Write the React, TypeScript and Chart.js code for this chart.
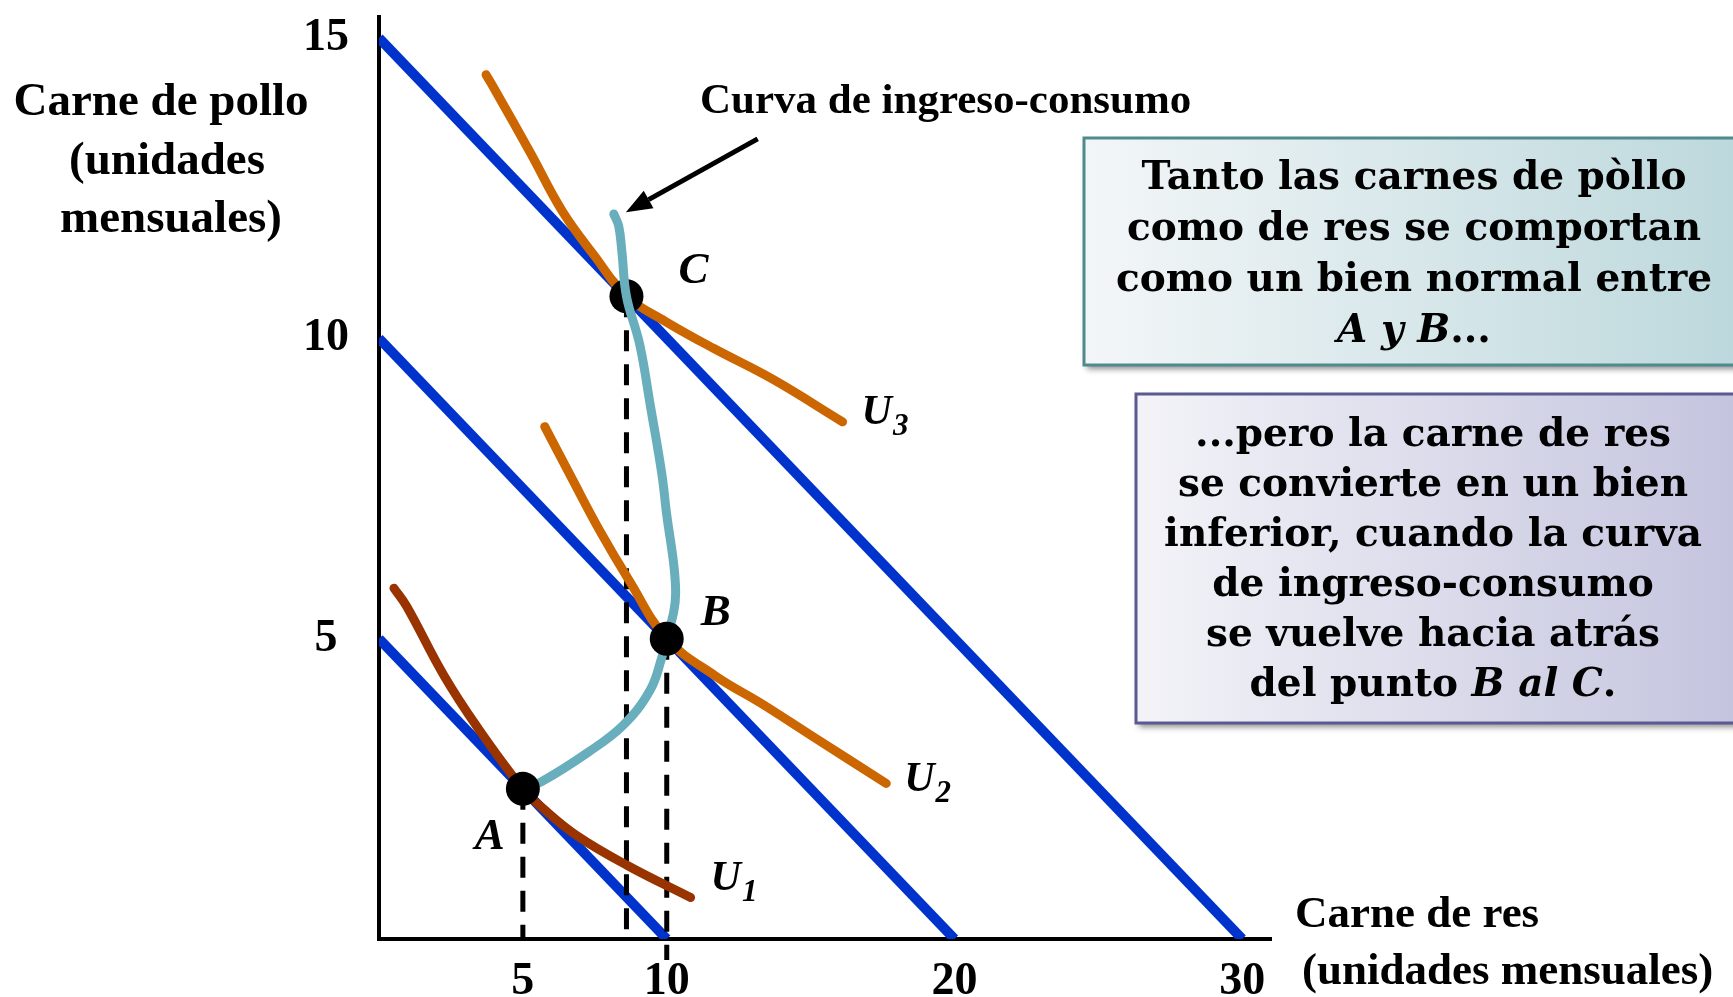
import { useEffect, useRef } from "react";
import { Chart, registerables } from "chart.js";

Chart.register(...registerables);

// Axis ticks
const xTicks = [5, 10, 20, 30];
const yTicks = [5, 10, 15];

// Budget lines (carne de res on x, carne de pollo on y)
const budgetLow = [{ x: 0, y: 5 }, { x: 10, y: 0 }];
const budgetMid = [{ x: 0, y: 10 }, { x: 20, y: 0 }];
const budgetHigh = [{ x: 0, y: 15 }, { x: 30, y: 0 }];

// Indifference curves
const curveU1 = [
  { x: 0.52, y: 5.84 }, { x: 0.96, y: 5.54 }, { x: 2.24, y: 4.4 }, { x: 3.44, y: 3.51 },
  { x: 5, y: 2.5 }, { x: 5.71, y: 2.17 }, { x: 6.88, y: 1.72 }, { x: 8.65, y: 1.22 }, { x: 10.83, y: 0.69 },
];
const curveU2 = [
  { x: 5.76, y: 8.53 }, { x: 6.69, y: 7.68 }, { x: 7.68, y: 6.79 }, { x: 8.68, y: 5.98 },
  { x: 10, y: 5 }, { x: 11.69, y: 4.38 }, { x: 13.29, y: 3.92 }, { x: 14.98, y: 3.4 }, { x: 17.63, y: 2.59 },
];
const curveU3 = [
  { x: 3.72, y: 14.39 }, { x: 4.06, y: 14.11 }, { x: 5.26, y: 13.09 }, { x: 6.38, y: 12.11 }, { x: 7.51, y: 11.36 },
  { x: 8.6, y: 10.7 }, { x: 9.96, y: 10.28 }, { x: 11.64, y: 9.83 }, { x: 13.68, y: 9.32 }, { x: 16.11, y: 8.61 },
];

// Income-consumption curve, from A through B and bending back through C
const incomeConsumption = [
  { x: 5, y: 2.5 }, { x: 5.65, y: 2.62 }, { x: 7.27, y: 3.11 }, { x: 8.49, y: 3.56 }, { x: 9.43, y: 4.15 },
  { x: 9.83, y: 4.69 }, { x: 10, y: 5 }, { x: 10.24, y: 5.44 }, { x: 10.31, y: 5.76 }, { x: 10.24, y: 6.25 },
  { x: 10.0, y: 7.06 }, { x: 9.83, y: 7.74 }, { x: 9.43, y: 8.88 }, { x: 9.06, y: 9.9 }, { x: 8.6, y: 10.7 },
  { x: 8.44, y: 11.45 }, { x: 8.33, y: 11.87 }, { x: 8.16, y: 12.07 },
];

// Optimal baskets
const pointA = { x: 5, y: 2.5 };
const pointB = { x: 10, y: 5 };
const pointC = { x: 8.6, y: 10.7 };

// Vertical guides from each basket to the beef axis
const dropA = [pointA, { x: 5, y: 0 }];
const dropB = [pointB, { x: 10, y: -0.35 }];
const dropC = [pointC, { x: 8.6, y: 0 }];

// Pointer to the income-consumption curve
const arrowTail = { x: 13.16, y: 13.32 };
const arrowTip = { x: 8.58, y: 12.1 };

// Text
const yTitle = ["Carne de pollo", "(unidades", "mensuales)"];
const xTitle = ["Carne de res", "(unidades mensuales)"];
const iccLabel = "Curva de ingreso-consumo";
type Seg = [string, boolean];
const note1: Seg[][] = [
  [["Tanto las carnes de pòllo", false]],
  [["como de res se comportan", false]],
  [["como un bien normal entre", false]],
  [["A y B", true], ["...", false]],
];
const note2: Seg[][] = [
  [["...pero la carne de res", false]],
  [["se convierte en un bien", false]],
  [["inferior, cuando la curva", false]],
  [["de ingreso-consumo", false]],
  [["se vuelve hacia atrás", false]],
  [["del punto ", false], ["B al C", true], [".", false]],
];

const SERIF = "'Liberation Serif', 'Times New Roman', serif";
const BOXSERIF = "'DejaVu Serif', serif";
const BLUE = "#0033cc";
const ORANGE = "#cc6600";
const BROWN = "#993300";
const TEAL = "#68aebc";

function lineSet(data: any[], color: string, width: number, extra: any = {}) {
  return {
    data,
    showLine: true,
    borderColor: color,
    backgroundColor: color,
    borderWidth: width,
    pointRadius: 0,
    pointHoverRadius: 0,
    fill: false,
    ...extra,
  };
}

function dotSet(data: any[]) {
  return {
    data,
    showLine: false,
    pointRadius: 17,
    pointHoverRadius: 17,
    pointBackgroundColor: "#000",
    pointBorderColor: "#000",
    pointBorderWidth: 0,
  };
}

function drawSegments(ctx: CanvasRenderingContext2D, segs: Seg[], cx: number, baseline: number, size: number, family: string) {
  const widths = segs.map(([t, it]) => {
    ctx.font = `${it ? "italic " : ""}bold ${size}px ${family}`;
    return ctx.measureText(t).width;
  });
  const total = widths.reduce((a, b) => a + b, 0);
  let x = cx - total / 2;
  ctx.textAlign = "left";
  segs.forEach(([t, it], i) => {
    ctx.font = `${it ? "italic " : ""}bold ${size}px ${family}`;
    ctx.fillText(t, x, baseline);
    x += widths[i];
  });
}

function drawULabel(ctx: CanvasRenderingContext2D, sub: string, left: number, baseline: number) {
  ctx.textAlign = "left";
  ctx.font = `italic bold 42px ${SERIF}`;
  ctx.fillText("U", left, baseline);
  const w = ctx.measureText("U").width;
  ctx.font = `italic bold 31px ${SERIF}`;
  ctx.fillText(sub, left + w + 1, baseline + 11);
}

function drawBox(
  ctx: CanvasRenderingContext2D,
  x: number, y: number, w: number, h: number,
  c0: string, c1: string, border: string
) {
  ctx.save();
  const g = ctx.createLinearGradient(x, 0, x + w, 0);
  g.addColorStop(0, c0);
  g.addColorStop(1, c1);
  ctx.shadowColor = "rgba(0,0,0,0.45)";
  ctx.shadowBlur = 6;
  ctx.shadowOffsetX = 3;
  ctx.shadowOffsetY = 4;
  ctx.fillStyle = g;
  ctx.fillRect(x, y, w, h);
  ctx.restore();
  ctx.save();
  ctx.strokeStyle = border;
  ctx.lineWidth = 3;
  ctx.strokeRect(x, y, w, h);
  ctx.restore();
}

const overlay = {
  id: "overlay",
  afterDraw(chart: any) {
    const ctx: CanvasRenderingContext2D = chart.ctx;
    const xs = chart.scales.x;
    const ys = chart.scales.y;
    const px = (p: { x: number; y: number }) => [xs.getPixelForValue(p.x), ys.getPixelForValue(p.y)];

    ctx.save();
    ctx.fillStyle = "#000";
    ctx.textBaseline = "alphabetic";

    // Axis titles
    ctx.font = `bold 47px ${SERIF}`;
    ctx.textAlign = "center";
    const yBase = [115, 174, 232];
    const yCx = [161, 167, 171];
    yTitle.forEach((t, i) => ctx.fillText(t, yCx[i], yBase[i]));
    ctx.font = `bold 45px ${SERIF}`;
    ctx.textAlign = "left";
    ctx.fillText(xTitle[0], 1295, 927);
    ctx.fillText(xTitle[1], 1302, 984);

    // Curve label and arrow
    ctx.font = `bold 43px ${SERIF}`;
    ctx.fillText(iccLabel, 700, 113);
    const [tx, ty] = px(arrowTail);
    const [hx, hy] = px(arrowTip);
    const ang = Math.atan2(hy - ty, hx - tx);
    const headLen = 26;
    const headW = 10;
    const bx = hx - headLen * Math.cos(ang);
    const by = hy - headLen * Math.sin(ang);
    ctx.strokeStyle = "#000";
    ctx.lineWidth = 5;
    ctx.beginPath();
    ctx.moveTo(tx, ty);
    ctx.lineTo(bx, by);
    ctx.stroke();
    ctx.beginPath();
    ctx.moveTo(hx, hy);
    ctx.lineTo(bx + headW * Math.sin(ang), by - headW * Math.cos(ang));
    ctx.lineTo(bx - headW * Math.sin(ang), by + headW * Math.cos(ang));
    ctx.closePath();
    ctx.fill();

    // Basket labels
    ctx.font = `italic bold 45px ${SERIF}`;
    ctx.textAlign = "left";
    const [ax, ay] = px(pointA);
    const [bbx, bby] = px(pointB);
    const [cx, cy] = px(pointC);
    ctx.fillText("A", ax - 48, ay + 60);
    ctx.fillText("B", bbx + 34, bby - 14);
    ctx.fillText("C", cx + 52, cy - 13);

    // Indifference curve labels
    const [u1x, u1y] = px(curveU1[curveU1.length - 1]);
    const [u2x, u2y] = px(curveU2[curveU2.length - 1]);
    const [u3x, u3y] = px(curveU3[curveU3.length - 1]);
    drawULabel(ctx, "1", u1x + 20, u1y - 8);
    drawULabel(ctx, "2", u2x + 18, u2y + 8);
    drawULabel(ctx, "3", u3x + 19, u3y + 2);

    // Note boxes
    drawBox(ctx, 1084, 138, 660, 227, "#f3f6f8", "#bcd8dc", "#4f8a8c");
    drawBox(ctx, 1136, 394, 610, 329, "#f3f3f8", "#c3c3de", "#5a5a92");
    ctx.fillStyle = "#000";
    note1.forEach((segs, i) => drawSegments(ctx, segs, 1414, 189 + i * 51, 39, BOXSERIF));
    note2.forEach((segs, i) => drawSegments(ctx, segs, 1433, 446 + i * 50, 39, BOXSERIF));

    ctx.restore();
  },
};

export default function App() {
  const ref = useRef<HTMLCanvasElement>(null);

  useEffect(() => {
    document.body.style.margin = "0";
    const canvas = ref.current;
    if (!canvas) return;
    const tickFont = { family: SERIF, size: 46, weight: "bold" as const };

    const chart = new Chart(canvas, {
      type: "scatter",
      data: {
        datasets: [
          dotSet([pointA, pointB]),
          lineSet(incomeConsumption, TEAL, 9, { tension: 0.4, borderCapStyle: "round" }),
          dotSet([pointC]),
          lineSet(curveU1, BROWN, 9, { tension: 0.4, borderCapStyle: "round" }),
          lineSet(curveU2, ORANGE, 9, { tension: 0.4, borderCapStyle: "round" }),
          lineSet(curveU3, ORANGE, 9, { tension: 0.4, borderCapStyle: "round" }),
          lineSet(dropA, "#000", 5, { borderDash: [21, 13] }),
          lineSet(dropB, "#000", 5, { borderDash: [21, 13], clip: false }),
          lineSet(dropC, "#000", 5, { borderDash: [21, 13] }),
          lineSet(budgetLow, BLUE, 10),
          lineSet(budgetMid, BLUE, 10),
          lineSet(budgetHigh, BLUE, 10),
        ] as any,
      },
      options: {
        responsive: false,
        animation: false,
        devicePixelRatio: 1,
        events: [],
        layout: { padding: { top: 11, right: 462, bottom: 0, left: 0 } },
        plugins: {
          legend: { display: false },
          tooltip: { enabled: false },
        },
        scales: {
          x: {
            type: "linear",
            min: 0,
            max: 31,
            grid: { display: false, drawTicks: false },
            border: { display: true, color: "#000", width: 4 },
            ticks: {
              font: tickFont,
              color: "#000",
              padding: 16,
              autoSkip: false,
              maxRotation: 0,
              minRotation: 0,
            },
            afterBuildTicks: (s: any) => {
              s.ticks = xTicks.map((v) => ({ value: v }));
            },
            afterFit: (s: any) => {
              s.height = 58;
              s.paddingLeft = 0;
              s.paddingRight = 0;
            },
          },
          y: {
            type: "linear",
            min: 0,
            max: 15.35,
            grid: { display: false, drawTicks: false },
            border: { display: true, color: "#000", width: 4 },
            ticks: {
              font: tickFont,
              color: "#000",
              padding: 30,
              crossAlign: "center",
              autoSkip: false,
            },
            afterBuildTicks: (s: any) => {
              s.ticks = yTicks.map((v) => ({ value: v }));
            },
            afterFit: (s: any) => {
              s.width = 379;
              s.paddingTop = 0;
              s.paddingBottom = 0;
            },
          },
        },
      } as any,
      plugins: [overlay],
    });

    return () => chart.destroy();
  }, []);

  return (
    <div style={{ width: 1733, height: 997 }}>
      <canvas ref={ref} width={1733} height={997} style={{ display: "block" }} />
    </div>
  );
}
